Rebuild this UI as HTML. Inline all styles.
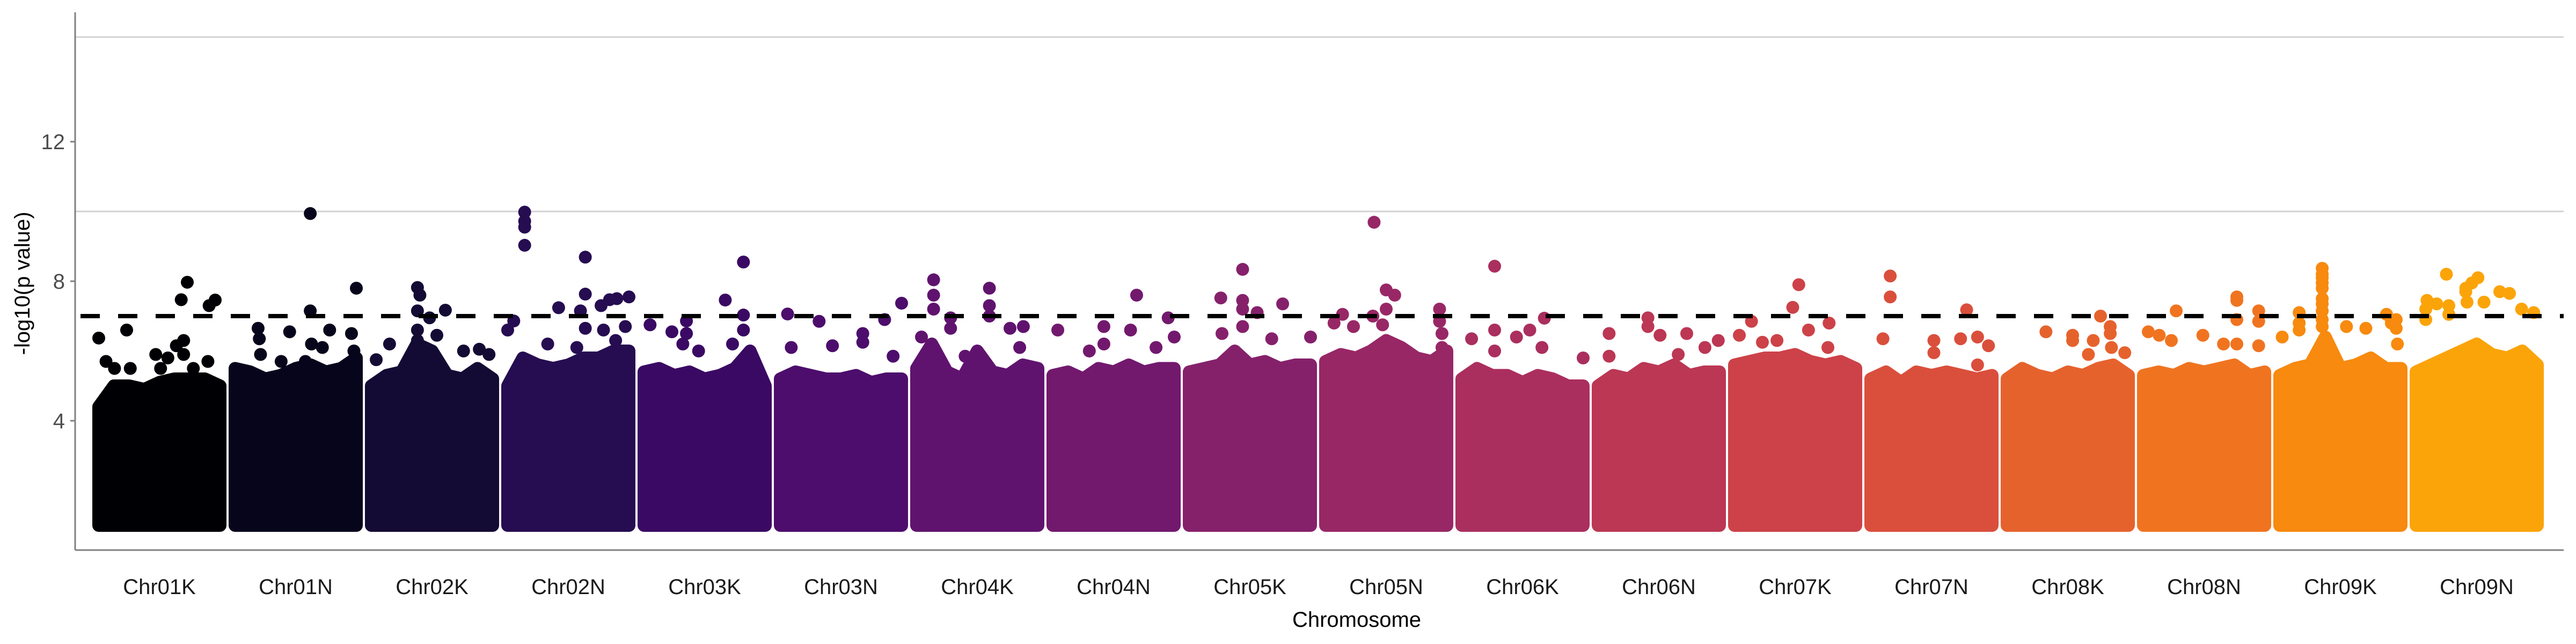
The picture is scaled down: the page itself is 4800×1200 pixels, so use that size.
<!DOCTYPE html>
<html><head><meta charset="utf-8"><style>
html,body{margin:0;padding:0;background:#fff;}
svg{display:block;font-family:"Liberation Sans",sans-serif;}
</style></head><body>
<svg id="chart" width="4800" height="1200" viewBox="0 0 4800 1200" xmlns="http://www.w3.org/2000/svg"></svg>
<script>
const chromosomes = ["Chr01K","Chr01N","Chr02K","Chr02N","Chr03K","Chr03N","Chr04K","Chr04N","Chr05K","Chr05N","Chr06K","Chr06N","Chr07K","Chr07N","Chr08K","Chr08N","Chr09K","Chr09N"];
const colors = ["#000004","#07051b","#140b35","#260c51","#3a0963","#4d0d6c","#60136e","#72196e","#85216b","#982766","#aa2f5e","#bb3754","#cc4248","#da4f3c","#e6622d","#f07420","#f78a0f","#fba40a"];
const yTicks = [4, 8, 12];
const gridValues = [10, 15];
const threshold = 7;
const bulkFloor = 1.0;
// bulk envelope tops (value at 9 evenly spaced positions along chromosome)
const bulkTops = [
 [4.4,5.0,5.0,4.9,5.1,5.2,5.2,5.2,5.0],
 [5.5,5.4,5.2,5.3,5.5,5.6,5.4,5.5,5.8],
 [5.0,5.3,5.4,6.2,6.0,5.3,5.2,5.5,5.2],
 [5.0,5.8,5.6,5.5,5.6,5.8,5.8,6.0,6.0],
 [5.4,5.5,5.3,5.4,5.2,5.3,5.5,6.0,5.0],
 [5.2,5.4,5.3,5.2,5.2,5.3,5.1,5.2,5.2],
 [5.5,6.2,5.4,5.2,6.0,5.4,5.3,5.6,5.5],
 [5.3,5.4,5.2,5.5,5.4,5.6,5.4,5.5,5.5],
 [5.4,5.5,5.6,6.0,5.6,5.7,5.5,5.6,5.6],
 [5.7,5.9,5.8,6.0,6.3,6.1,5.8,5.7,6.0],
 [5.2,5.5,5.3,5.3,5.1,5.3,5.2,5.0,5.0],
 [5.0,5.3,5.2,5.5,5.4,5.6,5.3,5.4,5.4],
 [5.6,5.7,5.8,5.8,5.9,5.7,5.6,5.7,5.5],
 [5.2,5.4,5.1,5.4,5.3,5.4,5.3,5.2,5.3],
 [5.2,5.5,5.3,5.2,5.4,5.3,5.5,5.6,5.3],
 [5.3,5.4,5.3,5.5,5.4,5.5,5.6,5.3,5.4],
 [5.3,5.5,5.6,6.4,5.5,5.6,5.8,5.5,5.5],
 [5.4,5.6,5.8,6.0,6.2,5.9,5.8,6.0,5.6]
];
// notable SNPs: [position % along chromosome, -log10 p]
const chrHits = [
 [[0,6.37],[23,6.6],[68,7.47],[73,7.97],[91,7.3],[96,7.46],[70,6.3],[64,6.15],[70,5.9],[6,5.7],[13,5.5],[26,5.5],[47,5.9],[57,5.8],[90,5.7],[51,5.5],[78,5.5]],
 [[19,6.65],[20,6.35],[62,9.94],[62,7.15],[100,7.8],[78,6.6],[96,6.5],[45,6.55],[72,6.1],[21,5.9],[38,5.7],[98,6.0],[63,6.2],[58,5.7]],
 [[38,7.82],[40,7.6],[38,7.15],[61,7.17],[38,6.6],[54,6.45],[4,5.75],[15,6.2],[76,6.0],[89,6.05],[48,6.95],[38,6.3],[97,5.9]],
 [[14,9.98],[14,9.72],[14,9.55],[14,9.03],[64,8.69],[64,7.63],[100,7.55],[90,7.5],[84,7.47],[42,7.24],[60,7.15],[77,7.3],[5,6.86],[0,6.6],[64,6.65],[79,6.6],[97,6.7],[89,6.3],[33,6.2],[57,6.1]],
 [[67,7.46],[82,8.55],[82,7.03],[35,6.86],[35,6.5],[23,6.55],[5,6.75],[82,6.6],[32,6.2],[45,6.0],[73,6.2]],
 [[6,7.06],[32,6.85],[86,6.9],[100,7.37],[68,6.5],[68,6.25],[43,6.15],[9,6.1],[93,5.85]],
 [[14,8.04],[14,7.6],[14,7.2],[60,7.8],[60,7.3],[60,7.0],[28,6.95],[28,6.65],[77,6.65],[88,6.7],[4,6.4],[40,5.85],[85,6.1]],
 [[69,7.6],[4,6.6],[42,6.7],[42,6.2],[64,6.6],[95,6.95],[100,6.4],[30,6.0],[85,6.1]],
 [[26,7.52],[44,8.34],[44,7.45],[44,7.2],[56,7.1],[77,7.35],[44,6.7],[27,6.5],[68,6.35],[100,6.4]],
 [[40,9.69],[50,7.75],[57,7.6],[50,7.2],[39,7.0],[14,7.05],[7,6.8],[94,7.2],[94,6.85],[96,6.5],[96,6.1],[47,6.75],[23,6.7]],
 [[27,8.43],[8,6.35],[27,6.6],[27,6.0],[56,6.6],[68,6.94],[45,6.4],[66,6.1],[100,5.8]],
 [[41,6.95],[41,6.7],[9,6.5],[9,5.85],[73,6.5],[99,6.3],[51,6.45],[66,5.9],[88,6.1]],
 [[53,7.9],[48,7.25],[14,6.85],[4,6.45],[61,6.6],[78,6.8],[35,6.3],[23,6.25],[77,6.1]],
 [[16,8.15],[16,7.55],[79,7.18],[10,6.35],[52,6.3],[52,5.95],[74,6.35],[88,6.4],[97,6.15],[88,5.6]],
 [[77,7.0],[32,6.55],[54,6.45],[54,6.3],[85,6.7],[85,6.5],[71,6.3],[86,6.1],[67,5.9],[97,5.95]],
 [[27,7.15],[4,6.55],[13,6.45],[49,6.45],[77,7.55],[77,7.45],[77,6.9],[95,7.15],[95,6.85],[23,6.3],[66,6.2],[77,6.2],[95,6.15]],
 [[35,8.37],[35,8.2],[35,8.1],[35,7.95],[35,7.8],[35,7.5],[35,7.35],[35,7.15],[35,6.9],[35,6.7],[16,7.1],[16,6.8],[16,6.6],[55,6.7],[71,6.65],[88,7.05],[92,6.8],[96,6.65],[96,6.9],[97,6.2],[2,6.4]],
 [[25,8.2],[51,8.1],[46,7.95],[41,7.8],[41,7.7],[69,7.7],[77,7.65],[9,7.45],[17,7.35],[27,7.3],[8,7.2],[42,7.4],[56,7.4],[87,7.2],[97,7.1],[8,6.9],[27,7.05]]
];

const NS = "http://www.w3.org/2000/svg";
const svg = document.getElementById("chart");
const plotL = 140, plotR = 4777, plotT = 23, axisY = 1025;
const R = 12;
function xPos(i, p) { return 184 + 254 * i + p / 100 * 226; }
function yPos(v) { return 1044 - 65 * v; }
function mk(tag, attrs, parent) {
  const e = document.createElementNS(NS, tag);
  for (const k in attrs) e.setAttribute(k, attrs[k]);
  (parent || svg).appendChild(e);
  return e;
}

// grid lines
gridValues.forEach(g => {
  const l = mk("line", {x1: plotL, x2: plotR, y1: yPos(g), y2: yPos(g), stroke: "#d3d3d3", "stroke-width": 3});
  
  
});

// series
chromosomes.forEach((name, i) => {
  const g = mk("g", {fill: colors[i]});
  
  
  const tops = bulkTops[i];
  let d = "M" + xPos(i, 0) + "," + yPos(bulkFloor);
  tops.forEach((v, k) => {
    d += " L" + xPos(i, k / (tops.length - 1) * 100) + "," + yPos(v);
  });
  d += " L" + xPos(i, 100) + "," + yPos(bulkFloor) + " Z";
  const bulk = mk("path", {d: d, fill: colors[i], stroke: colors[i], "stroke-width": 2 * R, "stroke-linejoin": "round"}, g);
  
  
  chrHits[i].forEach(h => {
    const c = mk("circle", {cx: xPos(i, h[0]), cy: yPos(h[1]), r: R}, g);
    
    
  });
  const t = mk("text", {x: xPos(i, 50), y: 1107, "text-anchor": "middle", "font-size": 40, fill: "#1a1a1a"});
  t.textContent = name;
  
  
});

// threshold
const th = mk("line", {x1: plotL + 10, x2: plotR, y1: yPos(threshold), y2: yPos(threshold), stroke: "#000", "stroke-width": 8, "stroke-dasharray": "36 34"});



// axes
const ya = mk("line", {x1: plotL, x2: plotL, y1: plotT, y2: axisY, stroke: "#808080", "stroke-width": 3});


const xa = mk("line", {x1: plotL, x2: plotR, y1: axisY, y2: axisY, stroke: "#808080", "stroke-width": 3});


yTicks.forEach(v => {
  const tk = mk("line", {x1: plotL - 9, x2: plotL, y1: yPos(v), y2: yPos(v), stroke: "#808080", "stroke-width": 3});
  
  
  const tl = mk("text", {x: 121, y: yPos(v) + 14, "text-anchor": "end", "font-size": 40, fill: "#4d4d4d"});
  tl.textContent = v;
  
  
});
const xt = mk("text", {x: 2528, y: 1168, "text-anchor": "middle", "font-size": 40, fill: "#000"});
xt.textContent = "Chromosome";


const yt = mk("text", {x: 0, y: 0, "text-anchor": "middle", "font-size": 40, fill: "#000", transform: "translate(55,528) rotate(-90)"});
yt.textContent = "-log10(p value)";


</script>
</body></html>
